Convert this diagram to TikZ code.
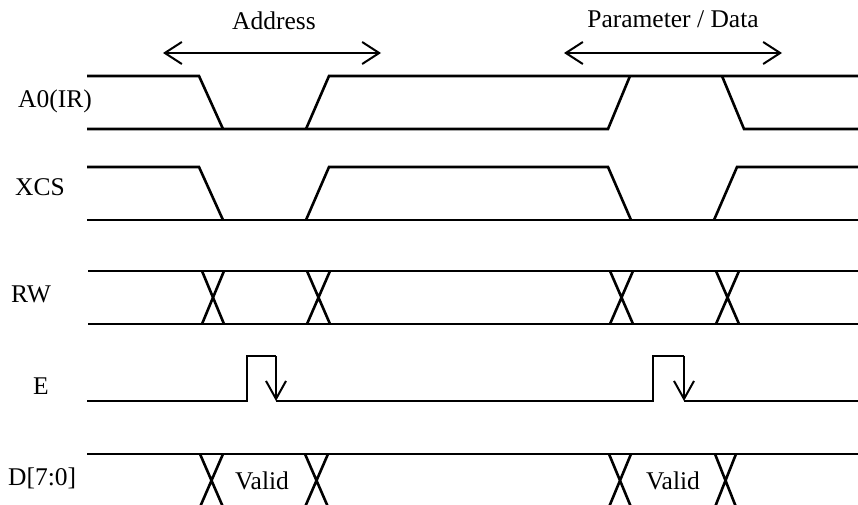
\documentclass[tikz,border=0pt]{standalone}
\usepackage{fontspec}
\setmainfont{Liberation Serif}
\usetikzlibrary{arrows.meta}
\begin{document}
\begin{tikzpicture}[x=1pt,y=-1pt,
  sig/.style={line width=2.6pt, line join=miter},
  lbl/.style={inner sep=0pt, anchor=base west, font=\fontsize{25.5}{30}\selectfont},
  ctxt/.style={inner sep=0pt, anchor=base, font=\fontsize{25.5}{30}\selectfont},
  spanarrow/.style={line width=2pt, {Straight Barb[length=17pt,width=22pt]}-{Straight Barb[length=17pt,width=22pt]}},
  edgearrow/.style={line width=2pt, -{Straight Barb[length=18pt,width=20pt]}}]
\clip (0,0) rectangle (858,505);
% labels
\node[lbl] (la0)  at (18,108) {A0(IR)};
\node[lbl] (lxcs) at (15,195) {XCS};
\node[lbl] (lrw)  at (11,302) {RW};
\node[lbl] (le)   at (33,394) {E};
\node[lbl] (ld)   at (8,485)  {D[7:0]};
\node[ctxt] (addr) at (274,30) {Address};
\node[ctxt] (par)  at (673,28) {Parameter / Data};
\node[ctxt] (v1)   at (262,489) {Valid};
\node[ctxt] (v2)   at (673,489) {Valid};
% span arrows
\coordinate (aL) at (163,53);
\coordinate (aR) at (381,53);
\coordinate (pL) at (564,53);
\coordinate (pR) at (782,53);
\draw[spanarrow] (aL) -- (aR);
\draw[spanarrow] (pL) -- (pR);
% A0(IR)
\draw[sig] (87,76) -- (199,76) -- (223,129);
\draw[sig] (87,129) -- (608,129) -- (630,76);
\draw[sig] (306,129) -- (329,76) -- (858,76);
\draw[sig] (722,76) -- (744,129) -- (858,129);
% XCS
\draw[sig] (87,167) -- (199,167) -- (223,220);
\draw[sig] (87,220) -- (858,220);
\draw[sig] (306,220) -- (329,167) -- (608,167) -- (631,220);
\draw[sig] (714,220) -- (737,167) -- (858,167);
% RW
\draw[sig] (88,271) -- (858,271);
\draw[sig] (88,324) -- (858,324);
\foreach \a/\b in {202/224, 307/330, 610/633, 716/739}
  \draw[sig] (\a,271) -- (\b,324) (\b,271) -- (\a,324);
% E
\coordinate (e1t) at (276,356);
\coordinate (e1b) at (276,401);
\coordinate (e2t) at (684,356);
\coordinate (e2b) at (684,401);
\draw[sig] (87,401) -- (247,401) -- (247,356) -- (e1t);
\draw[edgearrow] (e1t) -- (e1b);
\draw[sig] (e1b) -- (653,401) -- (653,356) -- (e2t);
\draw[edgearrow] (e2t) -- (e2b);
\draw[sig] (e2b) -- (858,401);
% D[7:0]
\draw[sig] (87,454) -- (858,454);
\foreach \a/\b in {200/223, 305/328, 609/631, 715/736}
  \draw[sig] (\a,454) -- (\b,507) (\b,454) -- (\a,507);
\end{tikzpicture}
\end{document}
